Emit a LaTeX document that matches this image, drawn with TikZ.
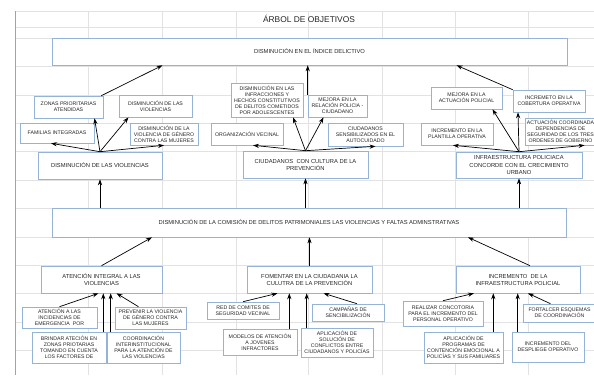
\documentclass[tikz,border=0pt]{standalone}
\usepackage{fontspec}
\setmainfont{Liberation Sans}
\usetikzlibrary{arrows.meta}
\definecolor{boxblue}{HTML}{95B3D7}
\definecolor{gridgray}{HTML}{E2E2E2}
\definecolor{sheetblue}{HTML}{9A9AE6}

\tikzset{
  ->/.style={draw=black,line width=0.7pt,-{Stealth[length=6pt,width=4.2pt]}},
  obj/.style={draw=boxblue,fill=white,line width=0.6pt,align=center,inner sep=0pt},
  big/.style={obj,font=\fontsize{5.8}{7}\selectfont}
}
\tikzstyle{every node}=[text=black!85,font=\fontsize{5.2}{6}\selectfont]

\begin{document}
\begin{tikzpicture}[x=1pt,y=-1pt]
    \useasboundingbox (0,0) rectangle (594,375);
    % hoja de calculo
    \foreach \y in {11,27,38,66,95,123,151,180,208,237,265,293,322,350}
        \draw[gridgray,line width=0.5pt] (15,\y) -- (594,\y);
    \foreach \x in {88,162,236,308,382,455,528}
        \draw[gridgray,line width=0.5pt] (\x,11) -- (\x,375);
    \draw[sheetblue,line width=0.7pt] (15,11) -- (15,375);

    \node[font=\fontsize{8.4}{10}\selectfont] (titulo) at (309,19) {ÁRBOL DE OBJETIVOS};
    \node[big,minimum width=515pt,minimum height=27pt] (fin) at (309.5,51.5) {DISMINUCIÓN EN EL ÍNDICE DELICTIVO};

    % fines
    \node[obj,minimum width=69pt,minimum height=22pt] (zonas) at (68.5,107) {ZONAS PRIORITARIAS\\ATENDIDAS};
    \node[obj,minimum width=73pt,minimum height=22pt] (dviolb) at (155.5,106) {DISMINUCIÓN DE LAS\\VIOLENCIAS};
    \node[obj,minimum width=74pt,minimum height=20pt] (famint) at (57,133) {FAMILIAS INTEGRADAS};
    \node[obj,minimum width=68pt,minimum height=22pt] (dgenero) at (164,134) {DISMINUCIÓN DE LA\\VIOLENCIA DE GÉNERO\\CONTRA LAS MUJERES};
    \node[big,minimum width=124pt,minimum height=27pt] (dviol) at (100,165.5) {DISMINUCIÓN DE LAS VIOLENCIAS};

    \node[obj,minimum width=72pt,minimum height=34pt] (infrac) at (267,100) {DISMINUCIÓN EN LAS\\INFRACCIONES Y\\HECHOS CONSTITUTIVOS\\DE DELITOS COMETIDOS\\POR ADOLESCENTES};
    \node[obj,minimum width=59pt,minimum height=22pt] (relac) at (337.5,106) {MEJORA EN LA\\RELACIÓN POLICIA -\\CIUDADANO};
    \node[obj,minimum width=72pt,minimum height=22pt] (orgvec) at (247,134) {ORGANIZACIÓN VECINAL};
    \node[obj,minimum width=75pt,minimum height=23pt] (sensib) at (365.5,134.5) {CIUDADANOS\\SENSIBILIZADOS EN EL\\AUTOCUIDADO};
    \node[big,minimum width=125pt,minimum height=27pt] (cultura) at (305.5,164.5) {CIUDADANOS \ CON CULTURA DE LA\\PREVENCIÓN};

    \node[obj,minimum width=71pt,minimum height=22pt] (actpol) at (466.5,98) {MEJORA EN LA\\ACTUACIÓN POLICIAL};
    \node[obj,minimum width=72pt,minimum height=22pt] (cobert) at (549,101) {INCREMETO EN LA\\COBERTURA OPERATIVA};
    \node[obj,minimum width=72pt,minimum height=22pt] (plantilla) at (457,134) {INCREMENTO EN LA\\PLANTILLA OPERATIVA};
    \node[obj,minimum width=71pt,minimum height=27pt] (ordenes) at (560.5,131.5) {ACTUACIÓN COORDINADA\\DEPENDENCIAS DE\\SEGURIDAD DE LOS TRES\\ORDENES DE GOBIERNO};
    \node[big,minimum width=126pt,minimum height=26pt] (infra) at (519,165) {INFRAESTRUCTURA POLICIACA\\CONCORDE CON EL CRECIMIENTO\\URBANO};

    \draw[->] ([xshift=-2pt]zonas.north east) -- ([xshift=-147pt]fin.south);
    \draw[->] (relac.north west) -- (relac.north west |- fin.south);
    \draw[->] (cobert.north west) -- ([xshift=147pt]fin.south);

    \draw[->] (dviol.north) -- ([xshift=-6pt]famint.south);
    \draw[->] (dviol.north) -- ([xshift=26pt]zonas.south);
    \draw[->] (dviol.north) -- ([xshift=-27pt]dviolb.south);
    \draw[->] (dviol.north) -- (dgenero.south);
    \draw[->] (cultura.north) -- ([xshift=6pt]orgvec.south);
    \draw[->] (cultura.north) -- ([xshift=26pt]infrac.south);
    \draw[->] (cultura.north) -- ([xshift=-14pt]relac.south);
    \draw[->] (cultura.north) -- ([xshift=10pt]sensib.south);
    \draw[->] (infra.north) -- ([xshift=-4pt]plantilla.south);
    \draw[->] (infra.north) -- ([xshift=26pt]actpol.south);
    \draw[->] (infra.north) -- ([xshift=-31pt]cobert.south);
    \draw[->] (infra.north) -- ([xshift=24pt]ordenes.south);

    % proposito
    \node[big,minimum width=514pt,minimum height=29pt] (proposito) at (309,222.5) {DISMINUCIÓN DE LA COMISIÓN DE DELITOS PATRIMONIALES LAS VIOLENCIAS Y FALTAS ADMINSTRATIVAS};
    \draw[->] (proposito.north -| dviol.south) -- (dviol.south);
    \draw[->] (proposito.north -| cultura.south) -- (cultura.south);
    \draw[->] (proposito.north -| infra.south) -- (infra.south);

    % componentes
    \node[big,minimum width=121pt,minimum height=27pt] (atint) at (101.5,279.5) {ATENCIÓN INTEGRAL A LAS\\VIOLENCIAS};
    \node[big,minimum width=125pt,minimum height=27pt] (fomentar) at (309.5,279.5) {FOMENTAR EN LA CIUDADANIA LA\\CULUTRA DE LA PREVENCIÓN};
    \node[big,minimum width=124pt,minimum height=27pt] (incinfra) at (518,279.5) {INCREMENTO \ DE LA\\INFRAESTRUCTURA POLICIAL};
    \draw[->] (atint.north) -- ([xshift=-157pt]proposito.south);
    \draw[->] (fomentar.north) -- (fomentar.north |- proposito.south);
    \draw[->] ([xshift=12pt]incinfra.north) -- ([xshift=159pt]proposito.south);

    % actividades
    \node[obj,minimum width=75pt,minimum height=21pt] (emerg) at (59.5,317.5) {ATENCIÓN A LAS\\INCIDENCIAS DE\\EMERGENCIA \ POR};
    \node[obj,minimum width=71pt,minimum height=22pt] (prevenir) at (150.5,318) {PREVENIR LA VIOLENCIA\\DE GÉNERO CONTRA\\LAS MUJERES};
    \node[obj,minimum width=74pt,minimum height=31pt] (brindar) at (69,347.5) {BRINDAR ATECIÓN EN\\ZONAS PRIOTARIAS\\TOMANDO EN CUENTA\\LOS FACTORES DE};
    \node[obj,minimum width=73pt,minimum height=31pt] (coordint) at (143.5,347.5) {COORDINACIÓN\\INTERINSTITUCIONAL\\PARA LA ATENCIÓN DE\\LAS VIOLENCIAS};
    \draw[->] (emerg.north) -- ([xshift=-3pt]atint.south);
    \draw[->] ([xshift=-3pt]brindar.north east) -- ([xshift=-3pt]brindar.north east |- atint.south);
    \draw[->] ([xshift=4pt]coordint.north west) -- ([xshift=4pt]coordint.north west |- atint.south);
    \draw[->] ([xshift=-12pt]prevenir.north) -- ([xshift=15pt]atint.south);

    \node[obj,minimum width=72pt,minimum height=17pt] (redcom) at (243,310.5) {RED DE COMITES DE\\SEGURIDAD VECINAL};
    \node[obj,minimum width=72pt,minimum height=17pt] (campanas) at (348,312.5) {CAMPAÑAS DE\\SENCIBILIZACIÓN};
    \node[obj,minimum width=74pt,minimum height=26pt] (modelos) at (260,342) {MODELOS DE ATENCIÓN\\A JOVENES\\INFRACTORES};
    \node[obj,minimum width=72pt,minimum height=29pt] (solucion) at (337,342.5) {APLICACIÓN DE\\SOLUCIÓN DE\\CONFLICTOS ENTRE\\CIUDADANOS Y POLICÍAS};
    \draw[->] (redcom.north) -- ([xshift=-32pt]fomentar.south);
    \draw[->] ([xshift=-8pt]modelos.north east) -- ([xshift=-8pt]modelos.north east |- fomentar.south);
    \draw[->] ([xshift=6pt]solucion.north west) -- ([xshift=6pt]solucion.north west |- fomentar.south);
    \draw[->] ([xshift=9pt]campanas.north) -- ([xshift=14pt]fomentar.south);

    \node[obj,minimum width=80pt,minimum height=25pt] (concurso) at (443,313.5) {REALIZAR CONCOTORIA\\PARA EL INCREMENTO DEL\\PERSONAL OPERATIVO};
    \node[obj,minimum width=73pt,minimum height=18pt] (esquemas) at (559.5,313) {FORTALCER ESQUEMAS\\DE COORDINACIÓN};
    \node[obj,minimum width=79pt,minimum height=31pt] (contencion) at (463.5,347.5) {APLICACIÓN DE\\PROGRAMAS DE\\CONTENCIÓN EMOCIONAL A\\POLICÍAS Y SUS FAMILIARES};
    \node[obj,minimum width=72pt,minimum height=30pt] (despliegue) at (548,347) {INCREMENTO DEL\\DESPLIEGE OPERATIVO};
    \draw[->] (concurso.north) -- ([xshift=-44pt]incinfra.south);
    \draw[->] ([xshift=-10pt]contencion.north east) -- ([xshift=-10pt]contencion.north east |- incinfra.south);
    \draw[->] ([xshift=6pt]despliegue.north west) -- ([xshift=6pt]despliegue.north west |- incinfra.south);
    \draw[->] ([xshift=-9pt]esquemas.north) -- ([xshift=10pt]incinfra.south);
\end{tikzpicture}
\end{document}
